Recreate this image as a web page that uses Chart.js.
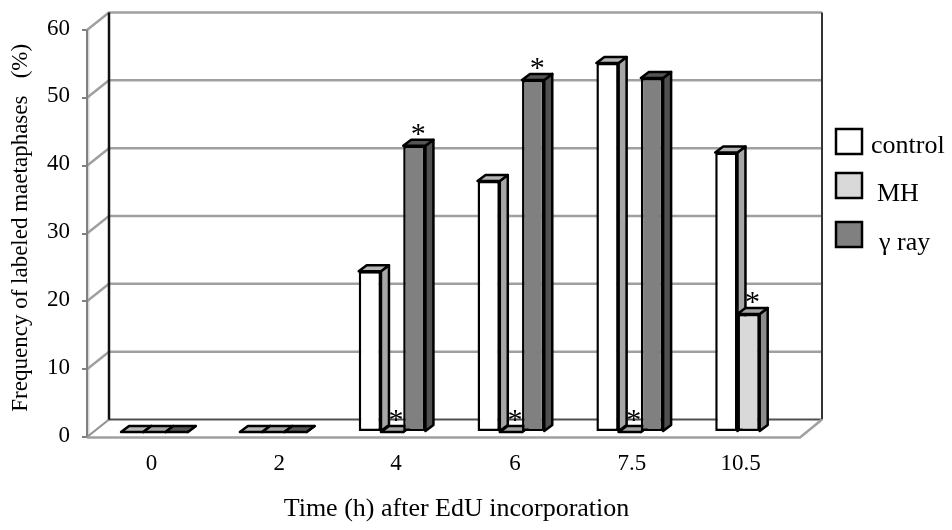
<!DOCTYPE html>
<html>
<head>
<meta charset="utf-8">
<title>Frequency of labeled metaphases</title>
<script src="https://cdn.jsdelivr.net/npm/chart.js@4"></script>
<style>
    html, body { margin: 0; padding: 0; background: #fff; }
    canvas { display: block; }
</style>
</head>
<body>
<canvas id="chart" width="952" height="530"></canvas>
<script>
const categories = ['0', '2', '4', '6', '7.5', '10.5'];
const seriesNames = ['control', 'MH', 'γ ray'];
const controlValues = [0, 0, 23.7, 37.0, 54.4, 41.2];
const mhValues = [0, 0, 0, 0, 0, 17.4];
const gammaValues = [0, 0, 42.2, 51.9, 52.2, null];
const mhStars = [false, false, true, true, true, true];
const gammaStars = [false, false, true, true, false, false];
const yTicks = [0, 10, 20, 30, 40, 50, 60];

const serifFont = '"Liberation Serif", serif';

// 3D look: the wall sits behind the axes, the bars sit a little way into the floor
const wallDepth = { x: 22, y: -17.5 };
const barShift = { x: 8, y: -5 };
const barDepth = { x: 8, y: -6 };
const barLine = 2.5;

const faces = [
    { front: '#ffffff', top: '#b5b5b5', side: '#a6a6a6' },
    { front: '#d9d9d9', top: '#a3a3a3', side: '#8c8c8c' },
    { front: '#808080', top: '#555555', side: '#505050' }
];

// the labels were placed by hand in the original, so they are not quite centred
const xLabelNudge = [5, 14, 12, 12, 10, 0];

const legendRows = [
    { boxTop: 129, textX: 871, textY: 146 },
    { boxTop: 173, textX: 877, textY: 194 },
    { boxTop: 222, textX: 879, textY: 243 }
];

function line(ctx, points, color, width) {
    ctx.beginPath();
    points.forEach((p, i) => (i ? ctx.lineTo(p[0], p[1]) : ctx.moveTo(p[0], p[1])));
    ctx.strokeStyle = color;
    ctx.lineWidth = width;
    ctx.stroke();
}

function face(ctx, points, fill) {
    ctx.beginPath();
    points.forEach((p, i) => (i ? ctx.lineTo(p[0], p[1]) : ctx.moveTo(p[0], p[1])));
    ctx.closePath();
    ctx.fillStyle = fill;
    ctx.fill();
    ctx.strokeStyle = '#000';
    ctx.lineWidth = barLine;
    ctx.lineJoin = 'round';
    ctx.stroke();
}

const walls3d = {
    id: 'walls3d',
    beforeDatasetsDraw(chart) {
        const { ctx, chartArea, scales } = chart;
        const { left, right, top, bottom } = chartArea;
        const dx = wallDepth.x;
        const dy = wallDepth.y;
        ctx.save();
        line(ctx, [[left + 1.5, top], [left + 1.5, bottom]], '#d9d9d9', 2);
        yTicks.forEach((v) => {
            const y = scales.y.getPixelForValue(v);
            if (v === 0) return;
            line(ctx, [[left, y], [left + dx, y + dy], [right + dx, y + dy]], '#a0a0a0', 2.5);
        });
        line(ctx, [[left, bottom], [left + dx, bottom + dy]], '#909090', 2);
        line(ctx, [[left + dx, bottom + dy], [right + dx, bottom + dy]], '#505050', 2);
        line(ctx, [[left, top], [left, bottom]], '#808080', 2);
        line(ctx, [[left + dx, top + dy], [left + dx, bottom + dy]], '#111', 2.5);
        line(ctx, [[right + dx, top + dy], [right + dx, bottom + dy]], '#333', 2);
        line(ctx, [[left, bottom + 0.5], [right, bottom + 0.5], [right + dx, bottom + dy]], '#a0a0a0', 2.5);
        ctx.restore();
    }
};

// sides and tops go down first, left to right, and the library paints the fronts over them
const bars3d = {
    id: 'bars3d',
    beforeDatasetsDraw(chart) {
        const { ctx } = chart;
        const dx = barDepth.x;
        const dy = barDepth.y;
        ctx.save();
        ctx.translate(barShift.x, barShift.y);
        faces.forEach((colors, index) => {
            const values = chart.data.datasets[index].data;
            chart.getDatasetMeta(index).data.forEach((bar, i) => {
                if (values[i] === null) return;
                const l = bar.x - bar.width / 2;
                const r = bar.x + bar.width / 2;
                const t = bar.y;
                const b = bar.base;
                face(ctx, [[r, t], [r + dx, t + dy], [r + dx, b + dy], [r, b]], colors.side);
                face(ctx, [[l, t], [l + dx, t + dy], [r + dx, t + dy], [r, t]], colors.top);
            });
        });
        ctx.restore();
    },
    beforeDatasetDraw(chart) {
        chart.ctx.save();
        chart.ctx.translate(barShift.x, barShift.y);
    },
    afterDatasetDraw(chart) {
        chart.ctx.restore();
    }
};

const overlayText = {
    id: 'overlayText',
    afterDraw(chart) {
        const { ctx, scales } = chart;
        ctx.save();
        ctx.fillStyle = '#000';
        ctx.font = '23px ' + serifFont;
        ctx.textBaseline = 'middle';
        ctx.textAlign = 'center';
        categories.forEach((label, i) => {
            ctx.fillText(label, scales.x.getPixelForTick(i) + xLabelNudge[i], 464);
        });

        // asterisks above the significant bars
        ctx.font = '30px ' + serifFont;
        [[1, mhStars], [2, gammaStars]].forEach(([index, stars]) => {
            chart.getDatasetMeta(index).data.forEach((bar, i) => {
                if (!stars[i]) return;
                ctx.fillText('*', bar.x + barShift.x + 4, bar.y + barShift.y - 11);
            });
        });

        // legend
        ctx.font = '26px ' + serifFont;
        ctx.textAlign = 'left';
        legendRows.forEach((row, i) => {
            ctx.fillStyle = faces[i].front;
            ctx.fillRect(836, row.boxTop, 26, 25);
            ctx.strokeStyle = '#000';
            ctx.lineWidth = barLine;
            ctx.strokeRect(836, row.boxTop, 26, 25);
            ctx.fillStyle = '#000';
            ctx.fillText(seriesNames[i], row.textX, row.textY);
        });
        ctx.restore();
    }
};

new Chart(document.getElementById('chart'), {
    type: 'bar',
    data: {
        labels: categories,
        datasets: [controlValues, mhValues, gammaValues].map((values, i) => ({
            label: seriesNames[i],
            data: values,
            backgroundColor: faces[i].front,
            borderColor: '#000',
            borderWidth: barLine,
            borderSkipped: false,
            clip: false
        }))
    },
    options: {
        responsive: false,
        animation: false,
        layout: { padding: { left: 0, top: 30, right: 152, bottom: 0 } },
        datasets: { bar: { categoryPercentage: 0.5614, barPercentage: 1 } },
        plugins: {
            legend: { display: false },
            tooltip: { enabled: false }
        },
        scales: {
            x: {
                afterFit(scale) { scale.height = 93; },
                grid: { display: false },
                border: { display: false },
                ticks: { display: false },
                title: {
                    display: true,
                    text: '\u00a0\u00a0\u00a0\u00a0Time (h) after EdU incorporation',
                    color: '#000',
                    font: { family: serifFont, size: 26 },
                    padding: { top: 0, bottom: 5 }
                }
            },
            y: {
                min: 0,
                max: 60,
                afterFit(scale) { scale.width = 87; },
                afterBuildTicks(scale) { scale.ticks = yTicks.map((value) => ({ value })); },
                grid: { drawOnChartArea: false, drawTicks: true, tickLength: 5, color: '#808080', lineWidth: 2 },
                border: { display: false },
                ticks: { color: '#000', font: { family: serifFont, size: 23 }, padding: 12, labelOffset: -1.5 },
                title: {
                    display: true,
                    text: '\u00a0\u00a0Frequency of labeled maetaphases \u00a0 (%)',
                    color: '#000',
                    font: { family: serifFont, size: 23 },
                    padding: { top: 7, bottom: 0 }
                }
            }
        }
    },
    plugins: [walls3d, bars3d, overlayText]
});
</script>
</body>
</html>
